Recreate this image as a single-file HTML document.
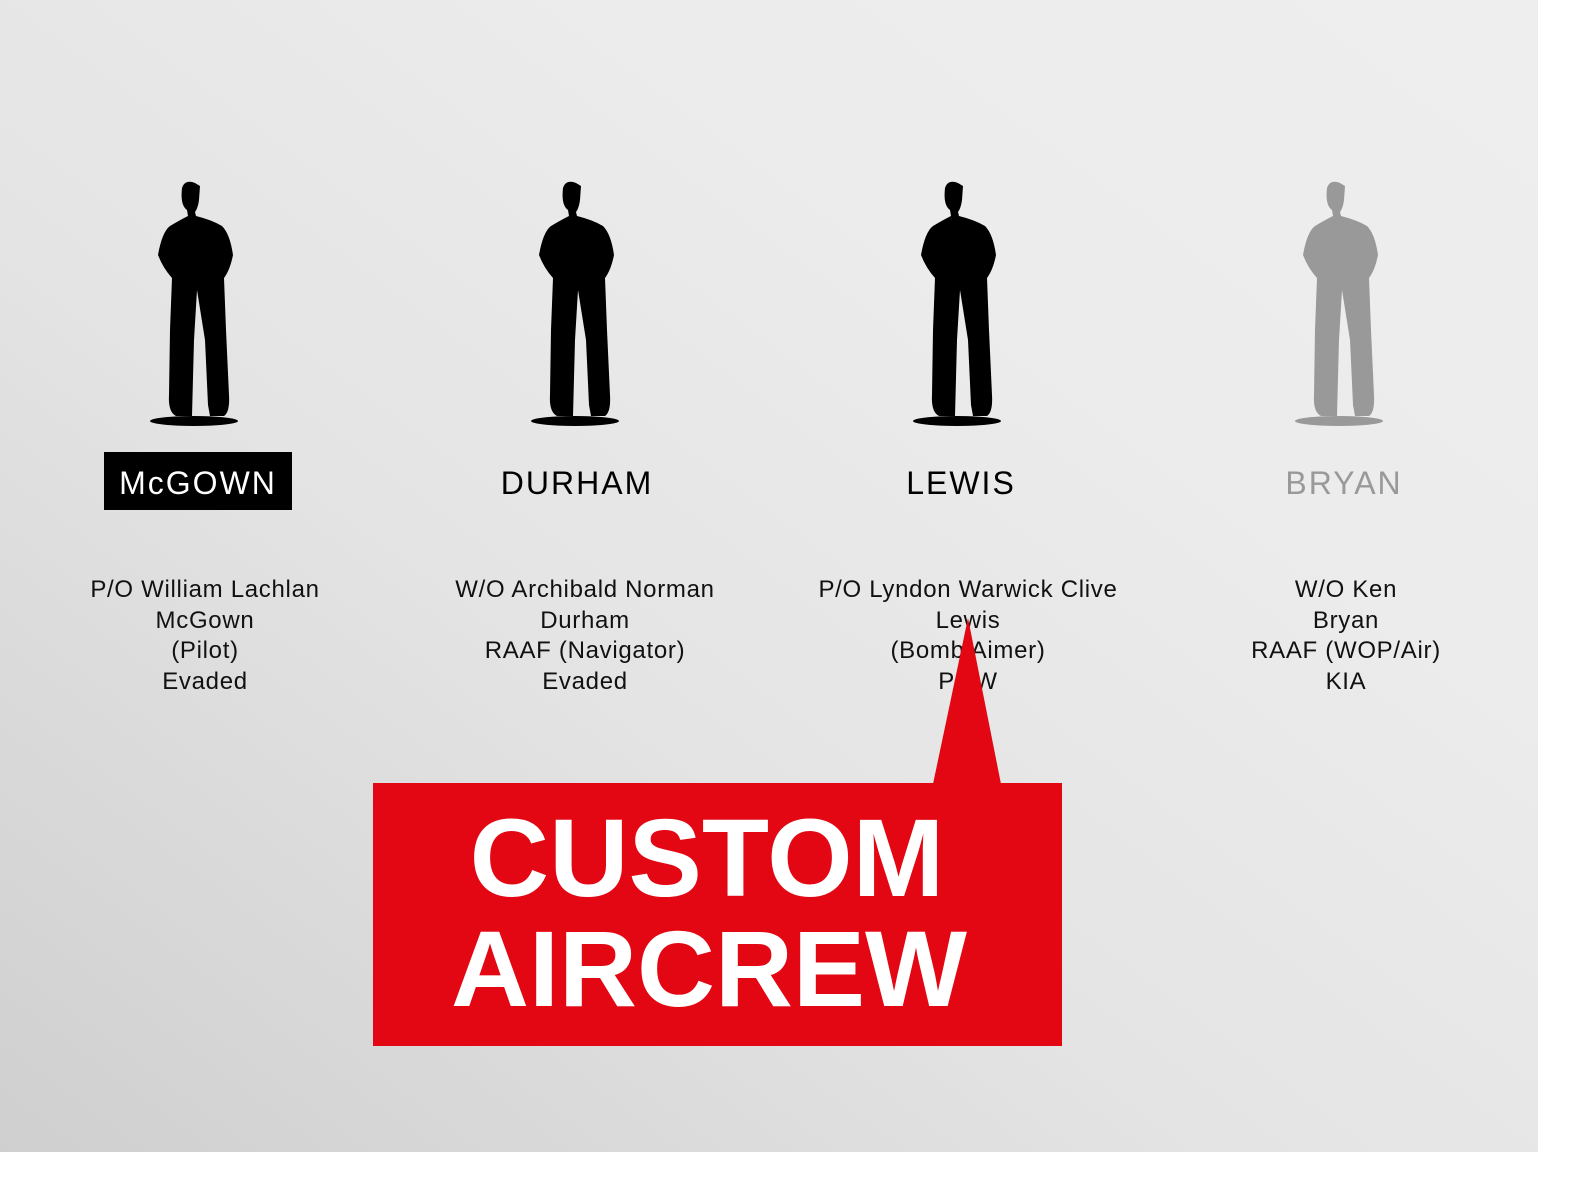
<!DOCTYPE html>
<html><head><meta charset="utf-8"><style>
html,body{margin:0;padding:0;background:#fff;}
#bg{position:absolute;left:0;top:0;width:1538px;height:1152px;background:linear-gradient(to top right,#cfcfcf 0%,#e4e4e4 40%,#ececec 70%,#eeeeee 100%);}
.t{position:absolute;font-family:"Liberation Sans",sans-serif;text-align:center;}
.name{font-size:32px;letter-spacing:2px;top:463px;width:300px;line-height:40px;}
.det{font-size:24px;line-height:30.5px;top:575px;width:380px;color:#111;letter-spacing:0.7px;}
</style></head><body>
<div id="bg"></div>
<svg width="1569" height="1177" style="position:absolute;left:0;top:0">
<defs>
<g id="fig">
<path d="M32 8 Q35 -1 45 3 L50 6 L49 20 Q48 28 45 32 L46 36 Q62 40 72 46 Q80 54 83 75 Q80 90 74 98 L76 150 L79 215 Q80 232 74 236 L60 236 L58 225 L55 160 L47 110 L44 160 L42 236 L26 236 Q18 232 19 215 L20 150 L22 98 Q13 88 8 75 Q12 52 20 46 Q30 40 38 36 L37 30 Q30 25 32 8 Z"/>
<ellipse cx="44" cy="241" rx="44" ry="5"/>
</g>
</defs>
<use href="#fig" x="150" y="180" fill="#000"/>
<use href="#fig" x="531" y="180" fill="#000"/>
<use href="#fig" x="913" y="180" fill="#000"/>
<use href="#fig" x="1295" y="180" fill="#999"/>
<rect x="104" y="452" width="188" height="58" fill="#000"/>
</svg>
<div class="t name" style="left:48px;color:#fff">McGOWN</div>
<div class="t name" style="left:427px;color:#000">DURHAM</div>
<div class="t name" style="left:811px;color:#000">LEWIS</div>
<div class="t name" style="left:1194px;color:#999">BRYAN</div>
<div class="t det" style="left:15px">P/O William Lachlan<br>McGown<br>(Pilot)<br>Evaded</div>
<div class="t det" style="left:395px">W/O Archibald Norman<br>Durham<br>RAAF (Navigator)<br>Evaded</div>
<div class="t det" style="left:778px">P/O Lyndon Warwick Clive<br>Lewis<br>(Bomb Aimer)<br>POW</div>
<div class="t det" style="left:1156px">W/O Ken<br>Bryan<br>RAAF (WOP/Air)<br>KIA</div>
<svg width="1569" height="1177" style="position:absolute;left:0;top:0">
<polygon points="933,784 1001,784 968,618" fill="#e30613"/>
<rect x="373" y="783" width="689" height="263" fill="#e30613"/>
<text x="707" y="896" text-anchor="middle" font-family="Liberation Sans,sans-serif" font-weight="bold" font-size="110" fill="#fff">CUSTOM</text>
<text x="709" y="1006" text-anchor="middle" font-family="Liberation Sans,sans-serif" font-weight="bold" font-size="108" fill="#fff">AIRCREW</text>
</svg>
</body></html>
